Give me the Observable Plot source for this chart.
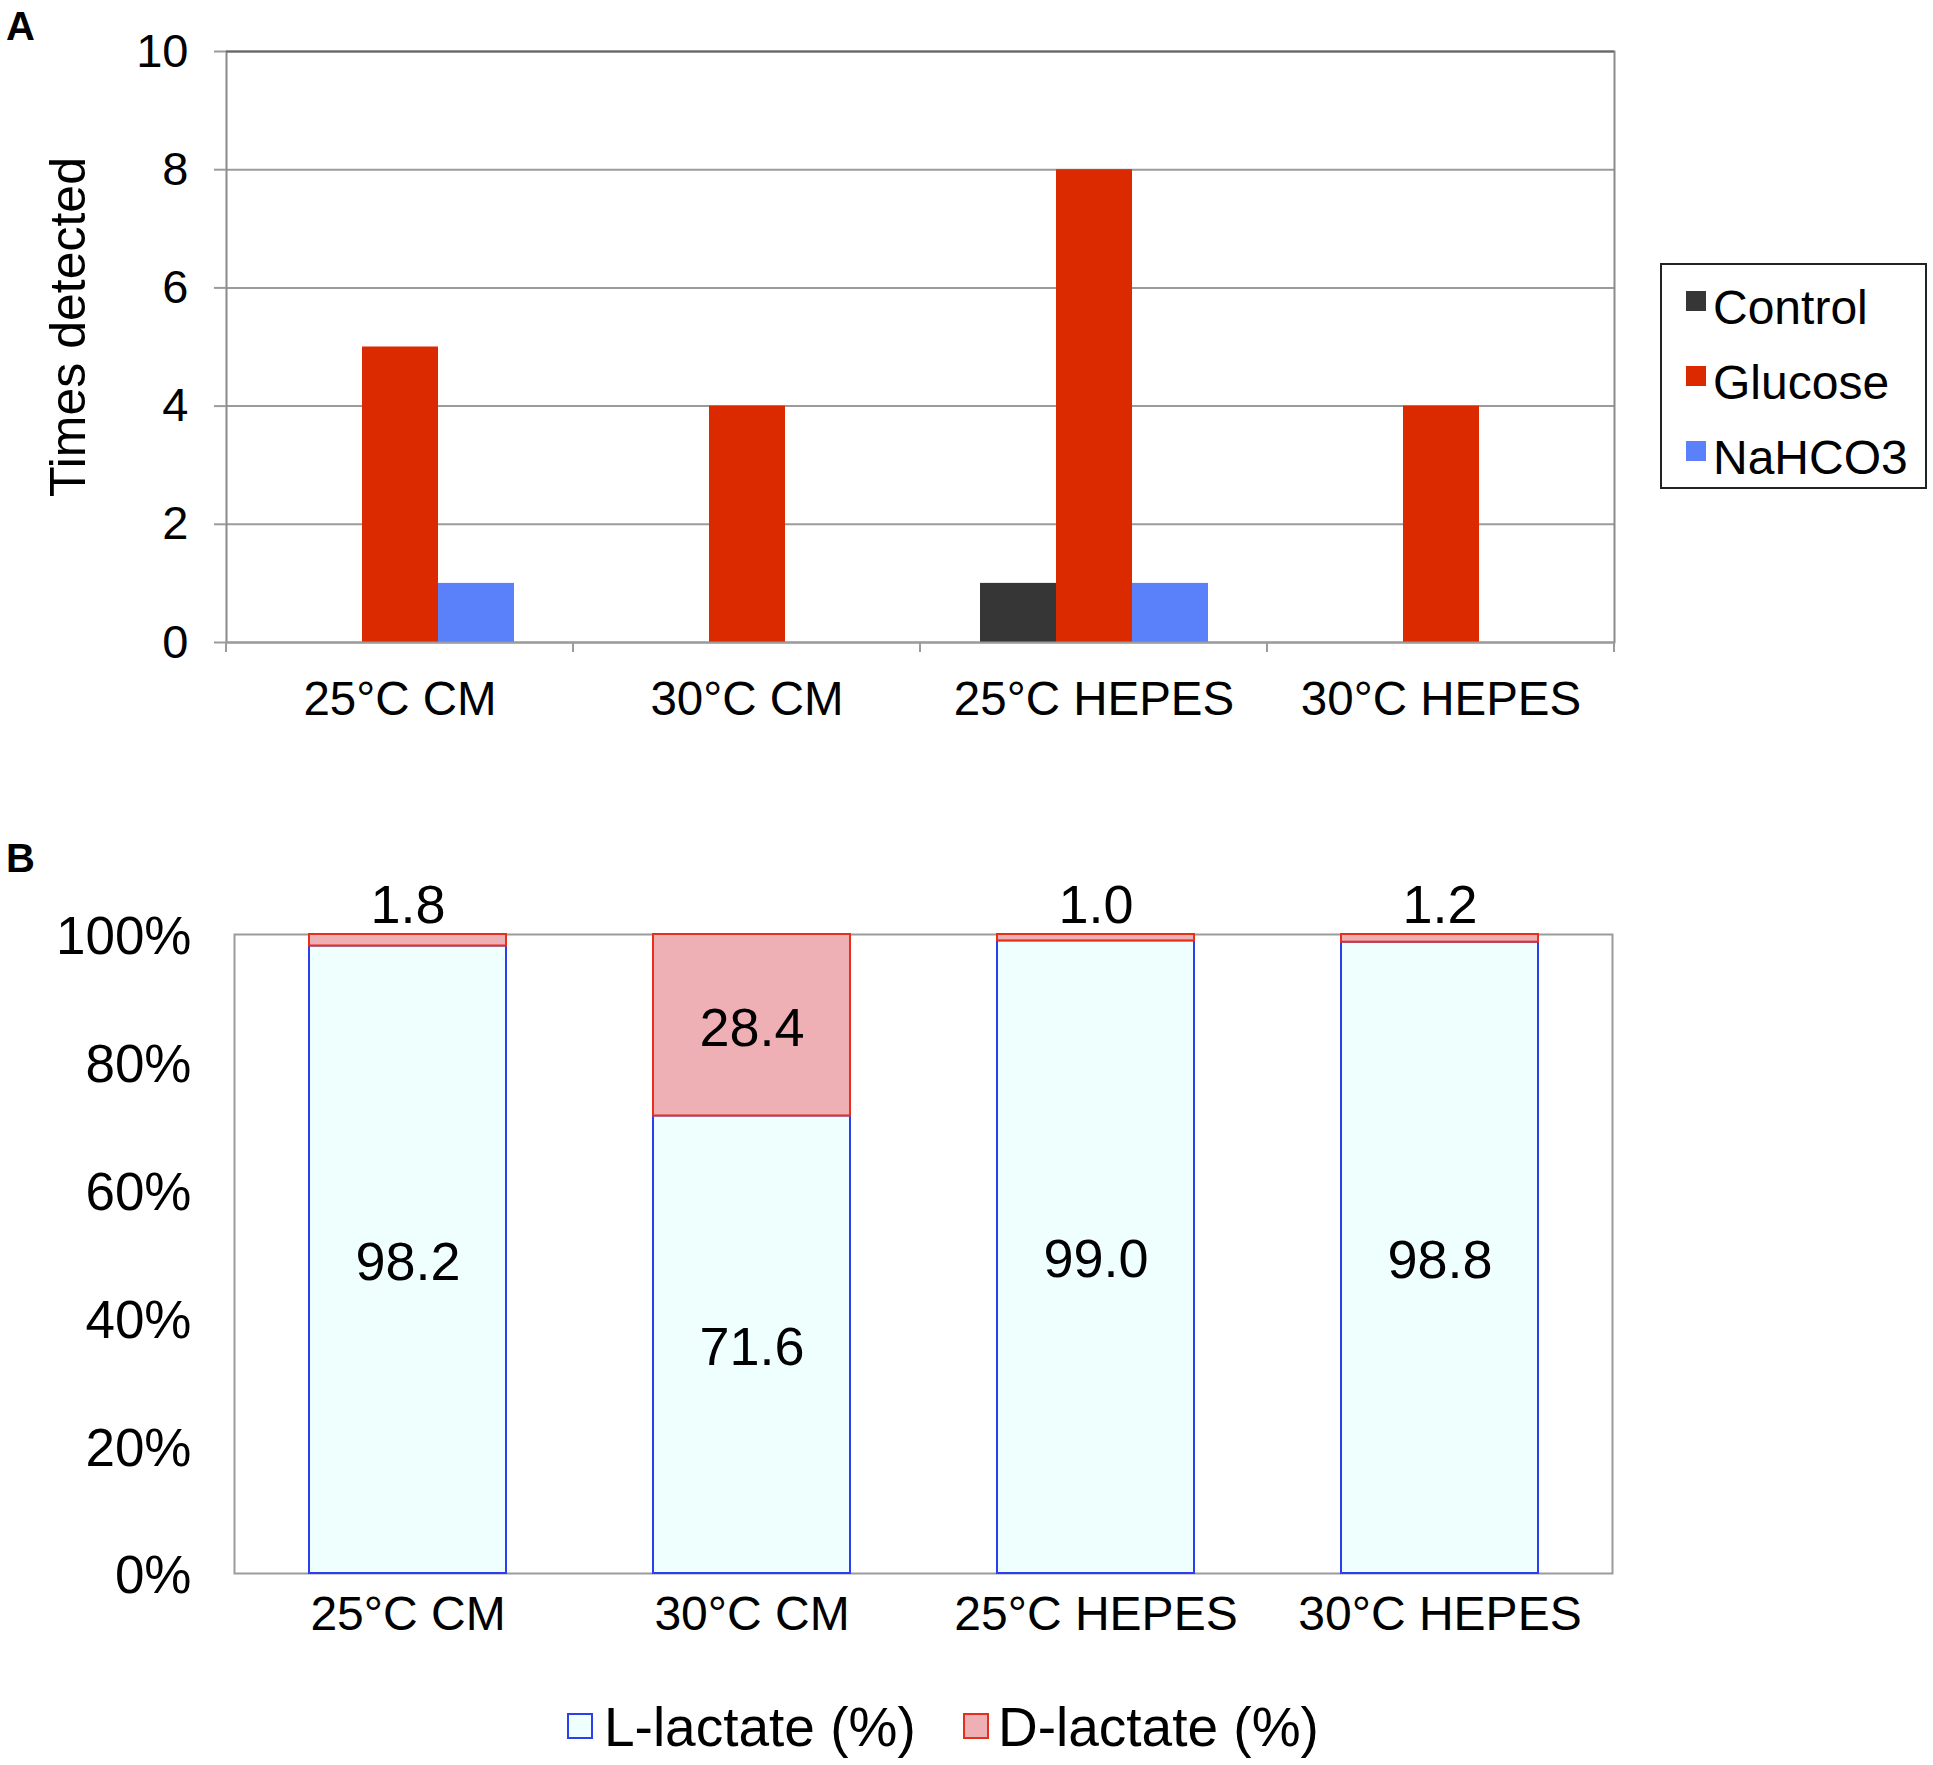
<!DOCTYPE html>
<html><head><meta charset="utf-8">
<script src="https://cdn.jsdelivr.net/npm/d3@7"></script>
<script src="https://cdn.jsdelivr.net/npm/@observablehq/plot@0.6"></script>
<style>
body{margin:0;background:#fff;font-family:"Liberation Sans",Arial,Helvetica,sans-serif;color:#000;}
#root{position:relative;width:1933px;height:1765px;overflow:hidden;background:#fff;}
.abs{position:absolute;white-space:nowrap;line-height:1;}
.sw{position:absolute;box-sizing:border-box;}
</style></head><body><div id="root"></div>
<script>
// ---------- data ----------
const categories = ["25°C CM", "30°C CM", "25°C HEPES", "30°C HEPES"];

// Panel A
const seriesA = ["Control", "Glucose", "NaHCO3"];
const controlA = [0, 0, 1, 0];
const glucoseA = [5, 4, 8, 4];
const nahco3A = [1, 0, 1, 0];
const yTicksA = [0, 2, 4, 6, 8, 10];
const colorsA = ["#363636", "#dc2a00", "#5a80fa"];

// Panel B
const seriesB = ["L-lactate (%)", "D-lactate (%)"];
const lLactate = [98.2, 71.6, 99.0, 98.8];
const dLactate = [1.8, 28.4, 1.0, 1.2];
const yTicksB = [0, 20, 40, 60, 80, 100];
const fillB = ["#effffd", "#eeafb5"];
const strokeB = ["#2a40f0", "#e5301c"];

// ---------- tables ----------
const valuesA = [controlA, glucoseA, nahco3A];
const tableA = categories.flatMap((c, i) => seriesA.map((s, j) => ({category: c, series: s, value: valuesA[j][i]})));
const valuesB = [lLactate, dLactate];
const tableB = categories.flatMap((c, i) => seriesB.map((s, j) => ({category: c, type: s, value: valuesB[j][i]})));

const font = "'Liberation Sans', Arial, Helvetica, sans-serif";
const root = document.getElementById("root");
const fmt = d3.format(".1f");

function addDiv(text, css, cls = "abs") {
  const d = document.createElement("div");
  d.className = cls;
  if (text != null) d.textContent = text;
  Object.assign(d.style, css);
  root.appendChild(d);
  return d;
}

// boundary ticks below the x axis of panel A (drawn at the edges of each facet)
function boundaryTicks(index, scales, values, dims) {
  const y0 = scales.y(0);
  const g = d3.create("svg:g").attr("stroke", "#9b9b9b").attr("stroke-width", 2);
  let xs;
  if (scales.fx && dims.width > 1000) {
    const bw = scales.fx.bandwidth ? scales.fx.bandwidth() : (dims.width - dims.marginLeft - dims.marginRight) / categories.length;
    xs = categories.map((c) => scales.fx(c)).concat([scales.fx(categories[categories.length - 1]) + bw]);
  } else {
    xs = [dims.marginLeft, dims.width - dims.marginRight];
  }
  for (const xx of xs) g.append("line").attr("x1", xx).attr("x2", xx).attr("y1", y0).attr("y2", y0 + 10);
  return g.node();
}

try {
  // ---------- Panel A ----------
  const chartA = Plot.plot({
    width: 1640, height: 740,
    marginLeft: 224, marginRight: 25, marginTop: 51, marginBottom: 98,
    style: {fontFamily: font, background: "transparent", overflow: "visible", color: "#000"},
    fx: {domain: categories, padding: 0, label: null},
    x: {domain: seriesA, paddingInner: 0, paddingOuter: 0.766, axis: null},
    y: {domain: [0, 10], label: null},
    color: {domain: seriesA, range: colorsA},
    marks: [
      Plot.ruleY(yTicksA.slice(1, -1), {stroke: "#9b9b9b", strokeWidth: 2}),
      Plot.frame({stroke: "#8a8a8a", strokeWidth: 2, facet: "super"}),
      Plot.ruleY([10], {stroke: "#666", strokeWidth: 2}),
      Plot.barY(tableA, {fx: "category", x: "series", y: "value", fill: "series"}),
      Plot.ruleY([0], {stroke: "#9b9b9b", strokeWidth: 2}),
      boundaryTicks,
      Plot.axisY({ticks: yTicksA, tickSize: 12, tickPadding: 26, fontSize: 47, stroke: "#9b9b9b", strokeWidth: 2, label: null}),
      Plot.axisFx({anchor: "bottom", tickSize: 0, tickPadding: 39, fontSize: 47.5, label: null})
    ]
  });
  chartA.style.position = "absolute";
  chartA.style.left = "0px";
  chartA.style.top = "0px";
  root.appendChild(chartA);

  // ---------- Panel B ----------
  const isL = (d) => d.type === seriesB[0];
  const isD = (d) => d.type === seriesB[1];
  const chartB = Plot.plot({
    width: 1640, height: 793,
    marginLeft: 234, marginRight: 28, marginTop: 84, marginBottom: 70,
    style: {fontFamily: font, background: "transparent", overflow: "visible", color: "#000"},
    x: {domain: categories, paddingInner: 0.428, paddingOuter: 0.214, label: null, axis: null},
    y: {domain: [0, 100], label: null},
    marks: [
      Plot.frame({stroke: "#9b9b9b", strokeWidth: 2}),
      Plot.barY(tableB, Plot.filter(isL, Plot.stackY({x: "category", y: "value", z: "type", fill: fillB[0], stroke: strokeB[0], strokeWidth: 2}))),
      Plot.barY(tableB, Plot.filter(isD, Plot.stackY({x: "category", y: "value", z: "type", fill: fillB[1], stroke: strokeB[1], strokeWidth: 2}))),
      Plot.text(tableB, Plot.filter((d) => isL(d) || (isD(d) && d.value >= 5), Plot.stackY({x: "category", y: "value", z: "type", text: (d) => fmt(d.value), fontSize: 54, fill: "#000", dy: 3}))),
      Plot.text(tableB, Plot.filter((d) => isD(d) && d.value < 5, Plot.stackY2({x: "category", y: "value", z: "type", text: (d) => fmt(d.value), fontSize: 54, fill: "#000", dy: -29}))),
      Plot.axisY({ticks: yTicksB, tickFormat: (d) => d + "%", tickSize: 0, tickPadding: 43, fontSize: 53, label: null, dy: 3}),
      Plot.axisX({tickSize: 0, tickPadding: 22, fontSize: 48, label: null})
    ]
  });
  chartB.style.position = "absolute";
  chartB.style.left = "0px";
  chartB.style.top = "850px";
  root.appendChild(chartB);
} catch (e) {
  addDiv("ERROR: " + e.message, {left: "300px", top: "300px", fontSize: "30px", color: "red"});
}

// ---------- panel letters ----------
addDiv("A", {left: "6px", top: "6px", fontSize: "40px", fontWeight: "bold"});
addDiv("B", {left: "6px", top: "838px", fontSize: "40px", fontWeight: "bold"});

// ---------- y label A ----------
addDiv("Times detected", {left: "68px", top: "327px", fontSize: "50px", transform: "translate(-50%,-50%) rotate(-90deg)"});

// ---------- legend A ----------
addDiv(null, {left: "1660px", top: "263px", width: "267px", height: "226px", border: "2px solid #222", boxSizing: "border-box"}, "sw");
seriesA.forEach((s, i) => {
  addDiv(null, {left: "1686px", top: (291 + i * 75) + "px", width: "20px", height: "20px", background: colorsA[i]}, "sw");
  addDiv(s, {left: "1713px", top: (284 + i * 75) + "px", fontSize: "48px"});
});

// ---------- legend B ----------
const legBX = [[567, 604], [963, 998]];
seriesB.forEach((s, i) => {
  addDiv(null, {left: legBX[i][0] + "px", top: "1713px", width: "26px", height: "26px", background: fillB[i], border: "2.5px solid " + strokeB[i]}, "sw");
  addDiv(s, {left: legBX[i][1] + "px", top: "1700px", fontSize: "55px"});
});
</script>
</body></html>
